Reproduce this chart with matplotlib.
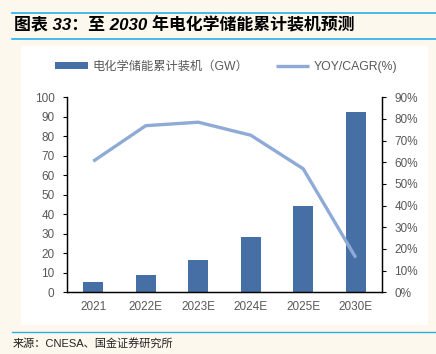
import matplotlib.pyplot as plt
from matplotlib.patches import Rectangle
from matplotlib.lines import Line2D
from matplotlib.ticker import FuncFormatter

plt.rcParams['font.family'] = ['Liberation Sans', 'Noto Sans CJK SC']

# data
years = ['2021', '2022E', '2023E', '2024E', '2025E', '2030E']
capacity_gw = [5.1, 9.1, 16.4, 28.4, 44.3, 92.6]
yoy_pct = [60.5, 76.9, 78.5, 72.5, 57.0, 16.0]

bar_color = '#4670a5'
line_color = '#8eaad6'
gray = '#595959'
rule_color = '#29aee8'

fig = plt.figure(figsize=(4.36, 3.54), dpi=100)
fig.patch.set_facecolor('#fdf8ed')

# white panel behind the chart
fig.patches.append(Rectangle((21 / 436, 1 - 325 / 354), 407 / 436, 279 / 354,
                             transform=fig.transFigure, facecolor='white',
                             edgecolor='none', zorder=-5))

# title and rules
fig.add_artist(Line2D([12 / 436, 1], [1 - 12.5 / 354] * 2, color=rule_color, lw=1.2))
fig.add_artist(Line2D([12 / 436, 1], [1 - 38.5 / 354] * 2, color=rule_color, lw=1.2))
fig.add_artist(Line2D([12 / 436, 1], [1 - 331.5 / 354] * 2, color=rule_color, lw=1.0))
fig.text(14 / 436, 1 - 25.5 / 354, '图表 33：至 2030 年电化学储能累计装机预测',
         fontsize=12.2, fontweight='bold', style='italic', va='center', ha='left')
fig.text(13 / 436, 1 - 343 / 354, '来源：CNESA、国金证券研究所',
         fontsize=8, va='center', ha='left', color='#222222')

ax = fig.add_axes([67 / 436, 1 - 292.3 / 354, 315 / 436, 195 / 354])
ax.set_facecolor('none')
x = range(len(years))
ax.bar(x, capacity_gw, width=0.38, color=bar_color, zorder=2,
       label='电化学储能累计装机（GW）')
ax.set_xlim(-0.5, len(years) - 0.5)
ax.set_ylim(0, 100)
ax.set_yticks(range(0, 101, 10))
ax.set_xticks(list(x))
ax.set_xticklabels(years)

ax2 = ax.twinx()
ax2.plot(x, yoy_pct, color=line_color, lw=2.4, solid_capstyle='butt',
         label='YOY/CAGR(%)', zorder=3)
ax2.set_ylim(0, 90)
ax2.set_yticks(range(0, 91, 10))
ax2.yaxis.set_major_formatter(FuncFormatter(lambda v, p: f'{v:.0f}%'))

for a in (ax, ax2):
    a.spines['top'].set_visible(False)
    for s in a.spines.values():
        s.set_linewidth(0.9)
        s.set_color('black')
    a.tick_params(labelsize=8.5, labelcolor=gray, length=3, width=0.8, color='black')
ax.tick_params(axis='x', length=0, pad=6)
ax.tick_params(axis='y', pad=6)
ax2.tick_params(axis='y', pad=6)

h1, l1 = ax.get_legend_handles_labels()
h2, l2 = ax2.get_legend_handles_labels()
fig.legend(h1 + h2, l1 + l2, loc='center', bbox_to_anchor=(226 / 436, 1 - 67 / 354),
           ncol=2, frameon=False, fontsize=8.8, labelcolor=gray,
           handlelength=2.7, handleheight=0.5, columnspacing=2.2, handletextpad=0.4)

fig.savefig('out.png', dpi=100, facecolor=fig.get_facecolor())
